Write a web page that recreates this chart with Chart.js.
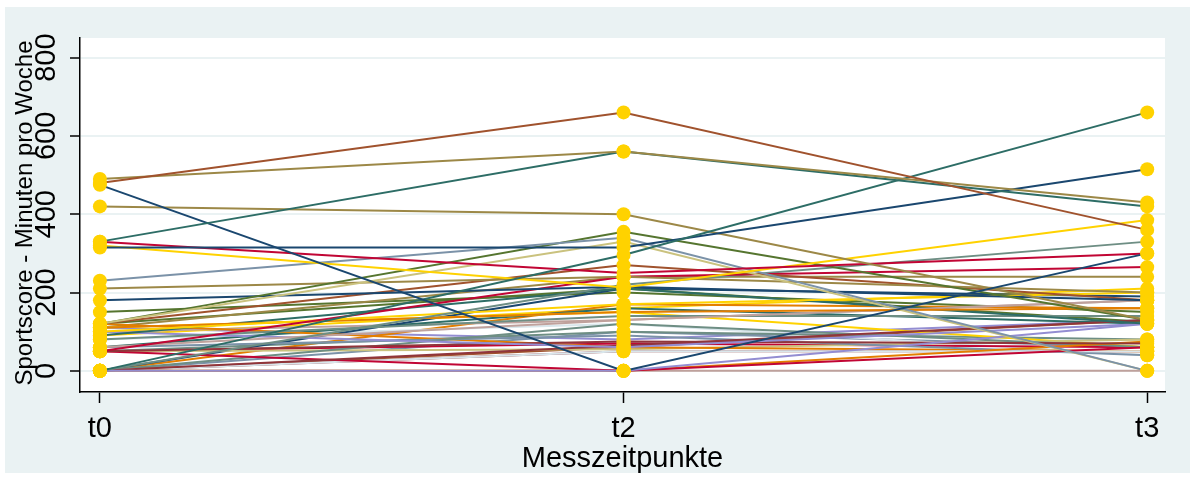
<!DOCTYPE html>
<html>
<head>
<meta charset="utf-8">
<script src="https://cdn.jsdelivr.net/npm/chart.js@4.4.1/dist/chart.umd.min.js"></script>
<style>
  html, body { margin: 0; padding: 0; background: #fff; }
  #wrap { width: 1195px; height: 477px; }
</style>
</head>
<body>
<div id="wrap"><canvas id="chart" width="1195" height="477"></canvas></div>
<script>
// Messzeitpunkte (x positions 0, 1, 2)
const timeLabels = ['t0', 't2', 't3'];
const yTicks = [0, 200, 400, 600, 800];

// one entry per person (minutes per week)
const t0Values = [480, 490, 330, 475, 0, 315, 420, 330, 320, 230, 120, 120, 210, 180, 120, 50, 0, 100, 110, 60,
  90, 80, 100, 0, 0, 50, 50, 0, 0, 0, 0, 60, 120, 50, 0, 110, 110, 120, 0, 60,
  100, 50, 50, 0, 80, 0, 90, 0, 110, 150];
const t2Values = [660, 560, 560, 0, 296, 315, 400, 250, 213, 340, 330, 355, 240, 215, 270, 240, 220, 170, 150, 130,
  210, 140, 60, 0, 65, 75, 0, 0, 0, 50, 120, 90, 60, 55, 50, 150, 240, 210, 210, 160,
  130, 100, 70, 60, 120, 170, 160, 100, 80, 200];
const t3Values = [360, 430, 420, 300, 660, 515, 130, 300, 385, 0, 0, 130, 200, 180, 180, 265, 330, 200, 160, 180,
  120, 140, 120, 120, 130, 70, 60, 75, 0, 50, 60, 40, 50, 80, 50, 60, 240, 125, 190, 120,
  180, 80, 60, 130, 40, 160, 210, 60, 130, 150];
const lineColors = ['#a0522d', '#9c8847', '#2d6d66', '#1a476f', '#2d6d66', '#1a476f', '#9c8847', '#c10534', '#ffd200', '#7b92a8',
  '#cac27e', '#55752f', '#9c8847', '#1a476f', '#a0522d', '#c10534', '#6e8e84', '#ffd200', '#e37e00', '#bfa19c',
  '#2d6d66', '#6e8e84', '#938dd2', '#938dd2', '#90353b', '#90353b', '#c10534', '#e37e00', '#bfa19c', '#d9e6eb',
  '#6e8e84', '#7b92a8', '#e37e00', '#cac27e', '#90353b', '#ffd200', '#9c8847', '#55752f', '#1a476f', '#2d6d66',
  '#bfa19c', '#6e8e84', '#c10534', '#a0522d', '#d9e6eb', '#e37e00', '#ffd200', '#7b92a8', '#938dd2', '#55752f'];

const markerColor = '#ffd200';
const regionColor = '#eaf2f3';

const lineSets = t0Values.map((v, i) => ({
  type: 'line',
  data: [
    { x: 0, y: v },
    { x: 1, y: t2Values[i] },
    { x: 2, y: t3Values[i] },
  ],
  borderColor: lineColors[i],
  borderWidth: 2,
  pointRadius: 0,
  tension: 0,
  order: 1,
}));

const markerPoints = [];
[t0Values, t2Values, t3Values].forEach((vals, k) => {
  vals.forEach(v => markerPoints.push({ x: k, y: v }));
});

// background, plot region and the rotated texts Stata draws
const stataFrame = {
  id: 'stataFrame',
  beforeDraw(chart) {
    const { ctx, chartArea: a } = chart;
    ctx.save();
    ctx.fillStyle = '#fff';
    ctx.fillRect(0, 0, chart.width, chart.height);
    ctx.fillStyle = regionColor;
    ctx.fillRect(5, 7, 1185, 466);
    ctx.fillStyle = '#fff';
    ctx.fillRect(a.left, a.top, a.right - a.left, a.bottom - a.top);
    ctx.restore();
  },
  afterDraw(chart) {
    const { ctx, chartArea: a } = chart;
    const ys = chart.scales.y;
    const xs = chart.scales.x;
    ctx.save();
    ctx.fillStyle = '#000';
    ctx.font = '29px "Liberation Sans", Arial, sans-serif';

    // y tick labels, turned 90 degrees
    ctx.textAlign = 'center';
    ctx.textBaseline = 'alphabetic';
    yTicks.forEach(t => {
      ctx.save();
      ctx.translate(55, ys.getPixelForValue(t));
      ctx.rotate(-Math.PI / 2);
      ctx.fillText(String(t), 0, 0);
      ctx.restore();
    });

    // x tick labels
    timeLabels.forEach((lab, k) => {
      ctx.fillText(lab, xs.getPixelForValue(k), 437);
    });

    // x title
    ctx.fillText('Messzeitpunkte', (a.left + a.right) / 2, 467);

    // y title
    ctx.font = '24px "Liberation Sans", Arial, sans-serif';
    ctx.translate(32, (a.top + a.bottom) / 2 - 2);
    ctx.rotate(-Math.PI / 2);
    ctx.fillText('Sportscore - Minuten pro Woche', 0, 0);
    ctx.restore();
  }
};

new Chart(document.getElementById('chart'), {
  type: 'line',
  data: {
    datasets: [
      ...lineSets,
      {
        type: 'scatter',
        data: markerPoints,
        backgroundColor: markerColor,
        borderColor: markerColor,
        pointRadius: 7,
        borderWidth: 0,
        order: 0,
      },
    ],
  },
  options: {
    responsive: false,
    animation: false,
    devicePixelRatio: 1,
    layout: { padding: { left: 70, top: 38, right: 30, bottom: 74 } },
    plugins: {
      legend: { display: false },
      tooltip: { enabled: false },
    },
    scales: {
      x: {
        type: 'linear',
        min: -0.038,
        max: 2.034,
        afterBuildTicks: s => { s.ticks = timeLabels.map((_, k) => ({ value: k })); },
        ticks: { display: false },
        grid: { drawOnChartArea: false, tickColor: '#000', tickLength: 11, tickWidth: 1.5 },
        border: { display: true, color: '#000', width: 1.5 },
      },
      y: {
        type: 'linear',
        min: -54,
        max: 850,
        afterBuildTicks: s => { s.ticks = yTicks.map(v => ({ value: v })); },
        ticks: { display: false },
        grid: { color: regionColor, lineWidth: 2, tickColor: '#000', tickLength: 10, tickWidth: 1.5 },
        border: { display: true, color: '#000', width: 1.5 },
      },
    },
  },
  plugins: [stataFrame],
});
</script>
</body>
</html>
